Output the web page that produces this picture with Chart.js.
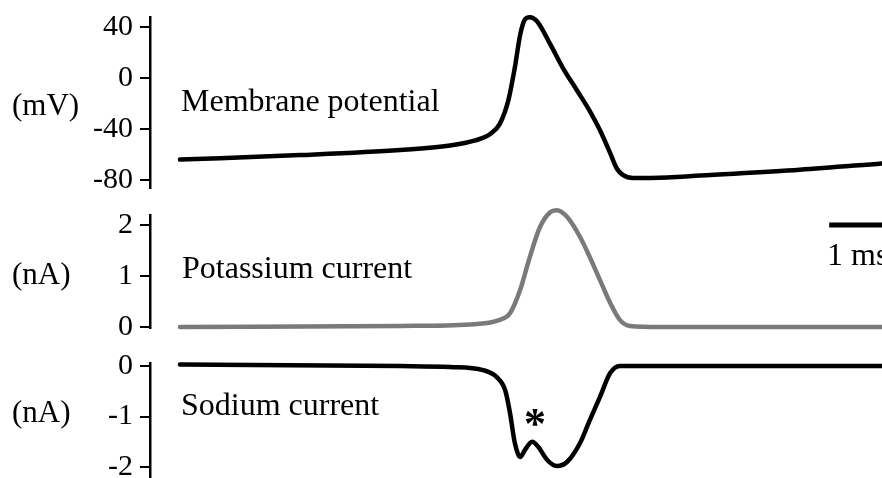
<!DOCTYPE html>
<html>
<head>
<meta charset="utf-8">
<script src="https://cdn.jsdelivr.net/npm/chart.js@4.4.0/dist/chart.umd.min.js"></script>
<style>
  html, body { margin: 0; padding: 0; background: #fff; }
  #wrap { position: relative; width: 882px; height: 478px; overflow: hidden; }
  #wrap canvas { position: absolute; left: 0; top: -50px; }
  .lbl { position: absolute; font-family: "Liberation Serif", "Times New Roman", serif; font-size: 32px; line-height: 32px; color: #000; white-space: nowrap; }
</style>
</head>
<body>
<div id="wrap">
  <canvas id="vChart" width="882" height="600"></canvas>
  <canvas id="kChart" width="882" height="600"></canvas>
  <canvas id="naChart" width="882" height="600"></canvas>
  <div class="lbl" style="left:12px; top:89px; font-size:31px;">(mV)</div>
  <div class="lbl" style="left:181px; top:84px;">Membrane potential</div>
  <div class="lbl" style="left:12px; top:258px; font-size:31px;">(nA)</div>
  <div class="lbl" style="left:182px; top:251px;">Potassium current</div>
  <div class="lbl" style="left:12px; top:396px; font-size:31px;">(nA)</div>
  <div class="lbl" style="left:181px; top:388px;">Sodium current</div>
  <div class="lbl" style="left:827px; top:238px;">1 ms</div>
  <div class="lbl" style="left:524px; top:408px; font-size:44px; font-weight:bold;">*</div>
</div>
<script>
// time in ms
const timeV = [0, 2.0, 3.67, 4.5, 4.92, 5.17, 5.33, 5.47, 5.58, 5.67, 5.75, 5.83, 5.95, 6.17, 6.38, 6.62, 6.83, 7.0, 7.17, 7.28, 7.38, 7.55, 8.12, 8.67, 10.33, 11.7];
const membraneV = [-64, -60.5, -56.5, -53, -49, -44, -36, -18, 8, 34, 46, 47.6, 44.4, 26.5, 8, -10, -26, -41, -59, -71, -76, -78.5, -78, -76.5, -72, -67];

const timeK = [0, 3.67, 4.83, 5.33, 5.5, 5.67, 5.83, 6.0, 6.17, 6.28, 6.45, 6.67, 6.83, 7.0, 7.17, 7.33, 7.5, 8.0, 11.7];
const potassiumI = [0, 0.02, 0.05, 0.14, 0.27, 0.73, 1.37, 1.96, 2.25, 2.29, 2.16, 1.76, 1.37, 0.92, 0.47, 0.14, 0.02, 0, 0];

const timeNa = [0, 3.67, 4.5, 5.05, 5.28, 5.42, 5.5, 5.58, 5.67, 5.75, 5.87, 5.97, 6.12, 6.28, 6.45, 6.67, 6.83, 7.0, 7.17, 7.33, 11.7];
const sodiumI = [0.03, 0, -0.02, -0.08, -0.22, -0.48, -0.93, -1.52, -1.80, -1.66, -1.50, -1.60, -1.86, -1.98, -1.90, -1.52, -1.07, -0.61, -0.14, 0, 0];

const ticksV = [40, 0, -40, -80];
const ticksK = [2, 1, 0];
const ticksNa = [0, -1, -2];

const scaleBarStart = 10.82; // ms
const scaleBarLength = 1;    // ms
const scaleBarLevel = 2;     // nA, on the potassium panel

const X_MIN = -0.5, X_MAX = 11.7;
const CANVAS_H = 600, CANVAS_SHIFT = 50; // canvas sits 50px above the page

function toPoints(xs, ys) {
  return xs.map((x, i) => ({ x: x, y: ys[i] }));
}

function createPanel(id, xs, ys, color, yMin, yMax, ticks, top, bottom, plugins) {
  const ctx = document.getElementById(id);
  if (Chart.getChart(id)) {
    Chart.getChart(id).destroy();
  }
  return new Chart(ctx, {
    type: 'line',
    data: {
      datasets: [{
        data: toPoints(xs, ys),
        borderColor: color,
        borderWidth: 4.5,
        borderCapStyle: 'round',
        borderJoinStyle: 'round',
        pointRadius: 0,
        cubicInterpolationMode: 'monotone',
        clip: false
      }]
    },
    options: {
      responsive: false,
      animation: false,
      layout: { padding: { top: top + CANVAS_SHIFT, bottom: CANVAS_H - (bottom + CANVAS_SHIFT), left: 0, right: 0 } },
      plugins: { legend: { display: false }, tooltip: { enabled: false } },
      scales: {
        x: { type: 'linear', min: X_MIN, max: X_MAX, display: false },
        y: {
          min: yMin,
          max: yMax,
          afterFit: (axis) => { axis.width = 150; },
          afterBuildTicks: (axis) => { axis.ticks = ticks.map(v => ({ value: v })); },
          grid: { display: true, drawOnChartArea: false, drawTicks: true, tickLength: 10, color: '#000', lineWidth: 2 },
          border: { display: true, color: '#000', width: 2.5 },
          ticks: {
            color: '#000',
            padding: 7,
            font: { family: '"Liberation Serif", "Times New Roman", serif', size: 30 }
          }
        }
      }
    },
    plugins: plugins || []
  });
}

const scaleBarPlugin = {
  id: 'scaleBar',
  afterDatasetsDraw(chart) {
    const c = chart.ctx;
    const x0 = chart.scales.x.getPixelForValue(scaleBarStart);
    const x1 = chart.scales.x.getPixelForValue(scaleBarStart + scaleBarLength);
    const y = chart.scales.y.getPixelForValue(scaleBarLevel);
    c.save();
    c.strokeStyle = '#000';
    c.lineWidth = 5;
    c.beginPath();
    c.moveTo(x0, y);
    c.lineTo(x1, y);
    c.stroke();
    c.restore();
  }
};

createPanel('vChart', timeV, membraneV, '#000', -86.3, 47.8, ticksV, 17, 188);
createPanel('kChart', timeK, potassiumI, '#7a7a7a', -0.02, 2.196, ticksK, 215, 328, [scaleBarPlugin]);
createPanel('naChart', timeNa, sodiumI, '#000', -2.455, 0.06, ticksNa, 363, 490);
</script>
</body>
</html>
